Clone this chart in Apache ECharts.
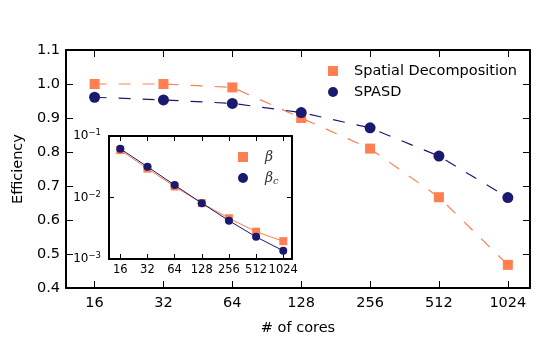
<!DOCTYPE html>
<html>
<head>
<meta charset="utf-8">
<script src="https://cdn.jsdelivr.net/npm/echarts@6/dist/echarts.min.js"></script>
<style>
  html, body { margin: 0; padding: 0; background: #fff; }
  #chart { width: 540px; height: 344px; }
</style>
</head>
<body>
<div id="chart"></div>
<script>
  // number of cores (x, log2 scale)
  const cores = [16, 32, 64, 128, 256, 512, 1024]
  // main plot: parallel efficiency
  const spatialEff = [1.0, 1.0, 0.99, 0.90, 0.81, 0.667, 0.468]
  const spasdEff = [0.961, 0.953, 0.943, 0.916, 0.871, 0.788, 0.666]
  // inset: beta and beta_c (log scale)
  const betaVals = [0.059, 0.0295, 0.0151, 0.0081, 0.0046, 0.00278, 0.00195]
  const betaCVals = [0.062, 0.0317, 0.0159, 0.0081, 0.0042, 0.00229, 0.00136]

  const ORANGE = '#ff7f50'
  const NAVY = '#191970'
  const FONT = 'DejaVu Sans'

  const lg = (v) => Math.log2(v)
  const xPos = cores.map(lg)
  const xMin = lg(12)
  const xMax = lg(1280)

  const pairs = (vals) => vals.map((v, i) => [xPos[i], v])

  const chart = echarts.init(document.getElementById('chart'), null, { renderer: 'canvas' })

  const boxLine = { show: true, onZero: false, lineStyle: { color: '#000', width: 2 } }

  const xAxisBase = (gridIndex, pos, showLabel, fontSize, tickLen, extra) =>
    Object.assign({
      type: 'value',
      gridIndex: gridIndex,
      position: pos,
      min: xMin,
      max: xMax,
      splitLine: { show: false },
      axisLine: boxLine,
      axisTick: {
        show: true,
        inside: true,
        length: tickLen,
        customValues: xPos,
        lineStyle: { color: '#000', width: 1 }
      },
      axisLabel: {
        show: showLabel,
        customValues: xPos,
        hideOverlap: false,
        fontFamily: FONT,
        fontSize: fontSize,
        color: '#000',
        margin: gridIndex === 0 ? 8 : 5,
        formatter: (v) => String(Math.round(Math.pow(2, v)))
      }
    }, extra || {})

  const option = {
    animation: false,
    backgroundColor: '#fff',
    grid: [
      { left: 66, top: 50, width: 464, height: 238 },
      { left: 109, top: 136, width: 183, height: 123, show: true, backgroundColor: '#fff', borderWidth: 0, z: 10 }
    ],
    xAxis: [
      xAxisBase(0, 'bottom', true, 14.5, 7, {
        name: '# of cores',
        nameLocation: 'middle',
        nameGap: 33,
        nameTextStyle: { fontFamily: FONT, fontSize: 14.5, color: '#000' }
      }),
      xAxisBase(0, 'top', false, 14.5, 7),
      xAxisBase(1, 'bottom', true, 11.5, 5, { z: 11 }),
      xAxisBase(1, 'top', false, 11.5, 5, { z: 11 })
    ],
    yAxis: [
      {
        type: 'value',
        gridIndex: 0,
        position: 'left',
        min: 0.4,
        max: 1.1,
        interval: 0.1,
        splitLine: { show: false },
        axisLine: boxLine,
        axisTick: { inside: true, length: 7, lineStyle: { color: '#000', width: 1 } },
        axisLabel: {
          fontFamily: FONT,
          fontSize: 14.5,
          color: '#000',
          margin: 6,
          formatter: (v) => v.toFixed(1)
        },
        name: 'Efficiency',
        nameLocation: 'middle',
        nameGap: 39,
        nameTextStyle: { fontFamily: FONT, fontSize: 14.5, color: '#000' }
      },
      {
        type: 'value',
        gridIndex: 0,
        position: 'right',
        min: 0.4,
        max: 1.1,
        interval: 0.1,
        splitLine: { show: false },
        axisLine: boxLine,
        axisTick: { inside: true, length: 7, lineStyle: { color: '#000', width: 1 } },
        axisLabel: { show: false }
      },
      {
        type: 'log',
        logBase: 10,
        gridIndex: 1,
        position: 'left',
        min: 0.001,
        max: 0.1,
        z: 11,
        splitLine: { show: false },
        minorTick: { show: false },
        axisLine: boxLine,
        axisTick: { inside: true, length: 5, lineStyle: { color: '#000', width: 1 } },
        axisLabel: {
          color: '#000',
          margin: 8,
          formatter: (v) => '{b|10}{e|' + String(Math.round(Math.log10(v))).replace('-', '\u2212') + '}',
          rich: {
            b: { fontFamily: FONT, fontSize: 12, color: '#000' },
            e: { fontFamily: FONT, fontSize: 8.5, color: '#000', verticalAlign: 'top', padding: [0, 0, 6, 0] }
          }
        }
      },
      {
        type: 'log',
        logBase: 10,
        gridIndex: 1,
        position: 'right',
        min: 0.001,
        max: 0.1,
        z: 11,
        splitLine: { show: false },
        axisLine: boxLine,
        axisTick: { inside: true, length: 5, lineStyle: { color: '#000', width: 1 } },
        axisLabel: { show: false }
      }
    ],
    legend: [
      {
        orient: 'vertical',
        left: 323,
        top: 58,
        itemWidth: 10,
        itemHeight: 10,
        itemGap: 5,
        data: [
          { name: 'Spatial Decomposition', icon: 'rect' },
          { name: 'SPASD', icon: 'circle' }
        ],
        textStyle: { fontFamily: FONT, fontSize: 14.5, color: '#000', lineHeight: 16, padding: [0, 0, 0, 11] }
      },
      {
        orient: 'vertical',
        left: 233,
        top: 145,
        z: 12,
        itemWidth: 10,
        itemHeight: 10,
        itemGap: 7,
        data: [
          { name: 'beta', icon: 'rect' },
          { name: 'beta_c', icon: 'circle' }
        ],
        formatter: (name) => (name === 'beta_c' ? '{i|\u03b2}{s|c}' : '{i|\u03b2}'),
        textStyle: {
          color: '#000',
          padding: [0, 0, 0, 12],
          rich: {
            i: { fontFamily: 'DejaVu Serif', fontStyle: 'italic', fontSize: 14, color: '#333' },
            s: { fontFamily: 'DejaVu Serif', fontStyle: 'italic', fontSize: 10, color: '#333', verticalAlign: 'bottom', padding: [6, 0, 0, 0] }
          }
        }
      }
    ],
    series: [
      {
        name: 'Spatial Decomposition',
        type: 'line',
        xAxisIndex: 0,
        yAxisIndex: 0,
        data: pairs(spatialEff),
        symbol: 'rect',
        symbolSize: 10,
        itemStyle: { color: ORANGE },
        lineStyle: { color: ORANGE, width: 1.2, type: [12, 12] }
      },
      {
        name: 'SPASD',
        type: 'line',
        xAxisIndex: 0,
        yAxisIndex: 0,
        data: pairs(spasdEff),
        symbol: 'circle',
        symbolSize: 11,
        itemStyle: { color: NAVY },
        lineStyle: { color: NAVY, width: 1.2, type: [12, 12] }
      },
      {
        name: 'beta',
        type: 'line',
        xAxisIndex: 2,
        yAxisIndex: 2,
        z: 12,
        data: pairs(betaVals),
        symbol: 'rect',
        symbolSize: 8,
        itemStyle: { color: ORANGE },
        lineStyle: { color: ORANGE, width: 1 }
      },
      {
        name: 'beta_c',
        type: 'line',
        xAxisIndex: 2,
        yAxisIndex: 2,
        z: 13,
        data: pairs(betaCVals),
        symbol: 'circle',
        symbolSize: 8,
        itemStyle: { color: NAVY },
        lineStyle: { color: NAVY, width: 1 }
      }
    ]
  }

  chart.setOption(option)
</script>
</body>
</html>
